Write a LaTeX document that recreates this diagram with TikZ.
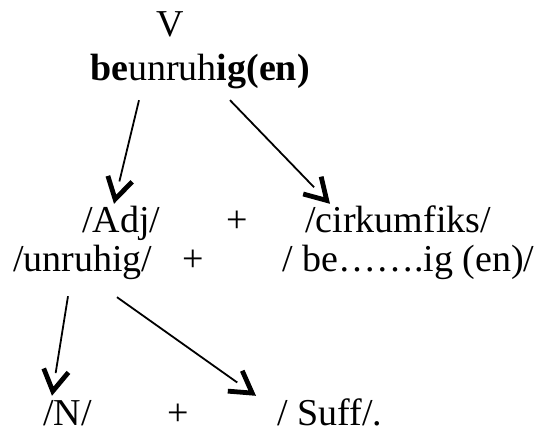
\documentclass[tikz,border=0pt]{standalone}
\usepackage{fontspec}
\setmainfont{Liberation Serif}
\usetikzlibrary{arrows.meta,calc,decorations.markings}

\begin{document}
\begin{tikzpicture}[x=1pt, y=-1pt, font=\fontsize{38pt}{44pt}\selectfont,
  every node/.style={inner sep=0pt, text height=26pt, text depth=8pt, anchor=base west},
  lastrow/.style={text depth=3pt},
  deriv/.style={line width=1.8pt, shorten >=23pt, postaction={decorate},
    decoration={markings, mark=at position 1 with
      {\arrow{Straight Barb[length=21pt, width=25pt, line width=4.8pt, sharp]}}}}]
\useasboundingbox (0,0) rectangle (538,430);

% V -> Adj + cirkumfiks
\node[anchor=base] (cat) at (170,37) {V};
\node (stem) at (90,81) {\textbf{be}unruh\textbf{ig(en)}};

\node (adj) at (82,233) {/Adj/};
\node[anchor=base] (plusA) at (237,233) {+};
\node (cirk) at (305,233) {/cirkumfiks/};

\node (unruhig) at (13,272) {/unruhig/};
\node[anchor=base] (plusB) at (193,272) {+};
\node (affix) at (282,272) {/ be…….ig (en)/};

% Adj -> N + Suff
\node[lastrow] (noun) at (43,425) {/N/};
\node[lastrow, anchor=base] (plusC) at (178,425) {+};
\node[lastrow] (suff) at (277,425) {/ Suff/.};

\draw[deriv] ($(stem.south west)+(49,11)$) -- ($(adj.north west)+(32,-3)$);
\draw[deriv] ($(stem.south west)+(140,11)$) -- ($(cirk.north west)+(25,-3)$);
\draw[deriv] ($(unruhig.south west)+(55,16)$) -- ($(noun.north west)+(9,-3)$);
\draw[deriv] ($(unruhig.south west)+(104,17)$) -- ($(suff.north west)+(-21,-3)$);
\end{tikzpicture}
\end{document}
